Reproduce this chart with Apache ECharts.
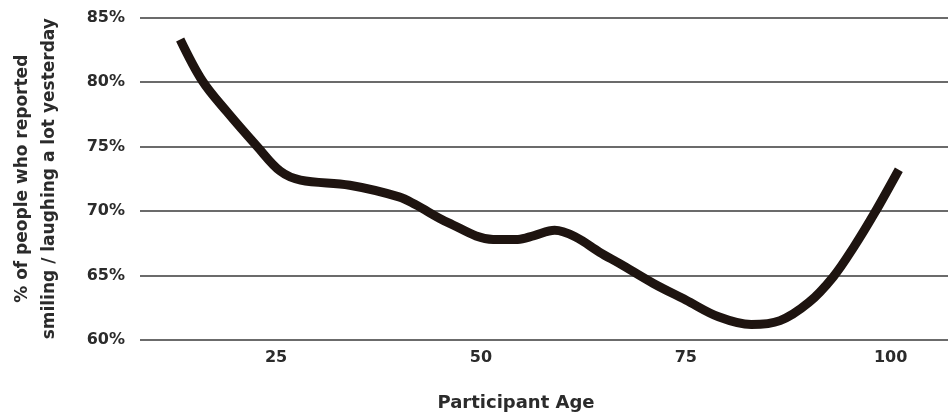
<!DOCTYPE html>
<html><head><meta charset="utf-8">
<script src="https://cdn.jsdelivr.net/npm/echarts@6/dist/echarts.min.js"></script>
<style>html,body{margin:0;padding:0;background:#fff}#c{width:948px;height:414px}</style>
</head><body><div id="c"></div>
<script>
const ages = [13.3, 16, 19, 22.7, 25.5, 28, 34, 40, 42, 46, 51.5, 54.5, 56.5, 59, 61.5, 64.5, 67, 71, 75, 79, 83, 86.5, 90, 93, 95.5, 98, 101];
const values = [83.3, 80.1, 77.7, 75.0, 73.1, 72.4, 72.0, 71.1, 70.5, 69.1, 67.8, 67.8, 68.1, 68.5, 68.0, 66.8, 65.9, 64.4, 63.1, 61.8, 61.2, 61.5, 62.9, 64.9, 67.2, 69.8, 73.2];
const xTicks = [25, 50, 75, 100];
const xTitle = 'Participant Age';
const yTitle = '% of people who reported\nsmiling / laughing a lot yesterday';

const chart = echarts.init(document.getElementById('c'));
const font = 'DejaVu Sans';
const txt = '#2b2b2b';
chart.setOption({
  animation: false,
  grid: {left: 140, right: 0, top: 17.5, bottom: 74, containLabel: false, outerBoundsMode: 'none'},
  xAxis: {
    type: 'value', min: 8.4, max: 107,
    axisLine: {show: false}, axisTick: {show: false}, splitLine: {show: false},
    axisLabel: {customValues: xTicks, color: txt, fontFamily: font, fontSize: 16, fontWeight: 'bold', margin: 10}
  },
  yAxis: {
    type: 'value', min: 60, max: 85, interval: 5,
    axisLine: {show: false}, axisTick: {show: false},
    splitLine: {lineStyle: {color: '#3a3a3a', width: 1.5}},
    axisLabel: {formatter: v => v + '%', color: txt, fontFamily: font, fontSize: 16, fontWeight: 'bold', margin: 15},
    name: yTitle, nameLocation: 'middle', nameGap: 77, nameRotate: 90,
    nameTextStyle: {color: txt, fontFamily: font, fontSize: 17, fontWeight: 'bold', lineHeight: 27, align: 'center'}
  },
  graphic: [{
    type: 'text', x: 516, y: 403,
    style: {text: xTitle, fill: txt, font: 'bold 18px "DejaVu Sans"', textAlign: 'center', textVerticalAlign: 'middle'}
  }],
  series: [{
    type: 'line', smooth: 0.35, symbol: 'none',
    data: ages.map((a, i) => [a, values[i]]),
    lineStyle: {color: '#1e1410', width: 9, cap: 'butt'}
  }]
});
</script></body></html>
